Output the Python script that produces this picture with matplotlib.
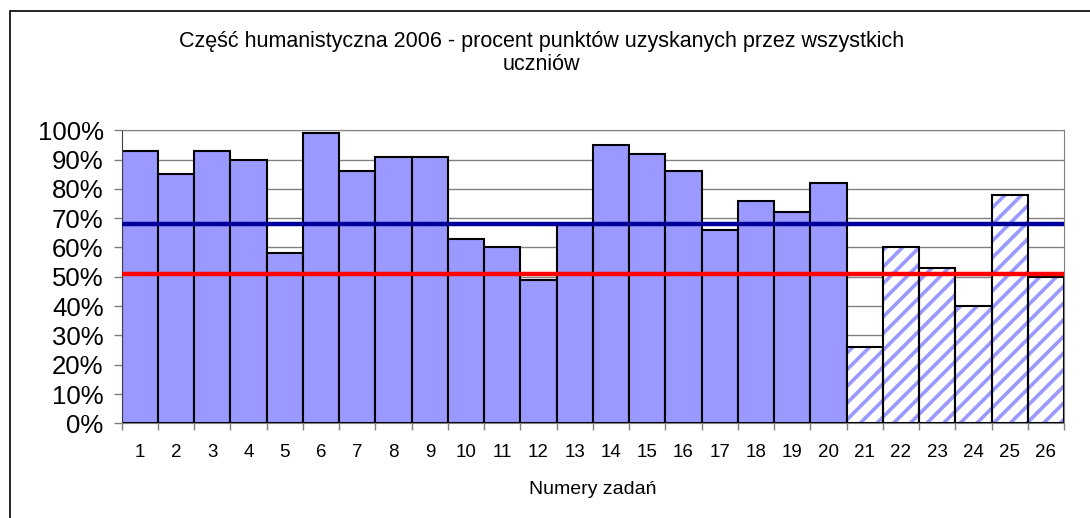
import numpy as np
import matplotlib.pyplot as plt
from matplotlib.patches import Rectangle
from matplotlib.ticker import PercentFormatter

# Data
tasks = list(range(1, 27))
percent = [93, 85, 93, 90, 58, 99, 86, 91, 91, 63, 60, 49, 68,
           95, 92, 86, 66, 76, 72, 82, 26, 60, 53, 40, 78, 50]
n_closed = 20  # tasks 1-20 closed (solid), 21-26 open (hatched)
mean_all = 68
mean_open = 51

TITLE = "Część humanistyczna 2006 - procent punktów uzyskanych przez wszystkich\nuczniów"
FONT = ['Liberation Sans', 'DejaVu Sans']
BAR = '#9999ff'

plt.rcParams['font.family'] = FONT
plt.rcParams['hatch.linewidth'] = 2.6

fig = plt.figure(figsize=(10.9, 5.18), dpi=100)
ax = fig.add_axes([0.1117, 0.1828, 0.8645, 0.5657])

x = np.array(tasks)
vals = np.array(percent)
solid = x <= n_closed

ax.bar(x[solid], vals[solid], width=1.0, color=BAR, edgecolor='black',
       linewidth=1.5, zorder=2)
# hatched bars: stripes in blue, outline in black
ax.bar(x[~solid], vals[~solid], width=1.0, color='white', edgecolor=BAR,
       hatch='//', linewidth=0, zorder=2)
ax.bar(x[~solid], vals[~solid], width=1.0, fill=False, edgecolor='black',
       linewidth=1.5, zorder=2.1)

ax.axhline(mean_all, color='#000099', linewidth=3.2, zorder=3)
ax.axhline(mean_open, color='#ff0000', linewidth=3.2, zorder=3)

ax.set_xlim(0.5, 26.5)
ax.set_ylim(0, 100)
ax.set_yticks(np.arange(0, 101, 10))
ax.yaxis.set_major_formatter(PercentFormatter(decimals=0))
ax.grid(axis='y', color='#808080', linewidth=1.0, zorder=0)
ax.set_axisbelow(True)

ax.set_xticks(x)
ax.set_xticklabels([str(t) for t in tasks])
ax.set_xticks(np.arange(0.5, 27, 1), minor=True)
ax.tick_params(axis='x', which='major', length=0, labelsize=13.5, pad=15)
ax.tick_params(axis='x', which='minor', length=5, color='#808080', width=1)
ax.tick_params(axis='y', length=6, color='#808080', width=1, labelsize=18.5, pad=7)

for side in ['top', 'right', 'bottom']:
    ax.spines[side].set_color('#808080')
ax.spines['left'].set_color('#404040')

ax.set_xlabel('Numery zadań', fontsize=14, labelpad=14)

fig.text(0.497, 0.94, TITLE, ha='center', va='top', fontsize=15.5,
         linespacing=1.1)

# outer chart frame (cut off on right and bottom)
fig.patches.append(Rectangle((10 / 1090, -0.05), 1.1, (518 - 10.5) / 518 + 0.05,
                             transform=fig.transFigure, fill=False,
                             edgecolor='black', linewidth=1.2))

fig.savefig('out.png', dpi=100)
